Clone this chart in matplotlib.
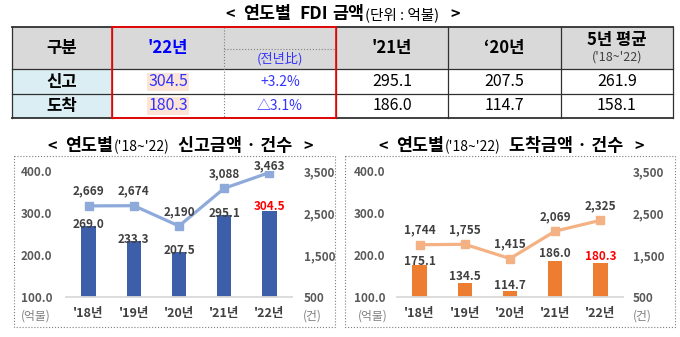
"""
연도별 FDI 금액 — summary table plus two bar/line combo charts.
"""

import numpy as np
import matplotlib
matplotlib.use("Agg")
import matplotlib.pyplot as plt
from matplotlib.patches import Rectangle

FONT = ["Noto Sans CJK KR", "DejaVu Sans"]
plt.rcParams["font.family"] = FONT

# ── Data ─────────────────────────────────────────────────────────────────────
table_header = ["구분", "'22년", "(전년比)", "'21년", "‘20년", "5년 평균"]
avg_period = "('18~'22)"
row_names = ["신고", "도착"]
val_22 = [304.5, 180.3]
yoy = ["+3.2%", "△3.1%"]
val_21 = [295.1, 186.0]
val_20 = [207.5, 114.7]
avg_5y = [261.9, 158.1]

years = ["'18년", "'19년", "'20년", "'21년", "'22년"]
report_amt = [269.0, 233.3, 207.5, 295.1, 304.5]
report_cnt = [2669, 2674, 2190, 3088, 3463]
arrive_amt = [175.1, 134.5, 114.7, 186.0, 180.3]
arrive_cnt = [1744, 1755, 1415, 2069, 2325]

amt_ticks = [100, 200, 300, 400]
cnt_ticks = [500, 1500, 2500, 3500]

# ── Style ────────────────────────────────────────────────────────────────────
BLUE_BAR = "#3d5fa9"
BLUE_LINE = "#8eaadb"
ORANGE_BAR = "#ed7d31"
ORANGE_LINE = "#f4b183"
DARK = "#404040"
TICK = "#595959"
RED = "#ff0000"
TBL_BLUE = "#3333ff"

fig = plt.figure(figsize=(6.8, 3.37), dpi=100)
bg = fig.add_axes([0, 0, 1, 1])
bg.set_xlim(0, 680)
bg.set_ylim(337, 0)
bg.axis("off")


def title_line(xc, y, pieces):
    """Draw mixed-size text pieces on one baseline, centred on xc."""
    renderer = fig.canvas.get_renderer()
    placed, total = [], 0
    for s, size, weight, gap in pieces:
        t = bg.text(0, y, s, fontsize=size, fontweight=weight, color="black",
                    ha="left", va="baseline")
        w = t.get_window_extent(renderer).width
        placed.append((t, w, gap))
        total += w + gap
    x = xc - total / 2
    for t, w, gap in placed:
        x += gap
        t.set_x(x)
        x += w


# ── Main title ───────────────────────────────────────────────────────────────
title_line(343, 19, [
    ("<", 11.5, "bold", 0),
    ("연도별", 12.5, "bold", 8),
    ("FDI", 12.5, "bold", 8),
    ("금액", 12.5, "bold", 5),
    ("(단위 : 억불)", 10.5, "normal", 0),
    (">", 11.5, "bold", 12),
])

# ── Table ────────────────────────────────────────────────────────────────────
col_x = [12, 112, 224, 336, 448, 561, 673]
row_y = [27, 69, 94, 118]
col_c = [(a + b) / 2 for a, b in zip(col_x[:-1], col_x[1:])]
row_c = [82, 106]

bg.add_patch(Rectangle((col_x[0], row_y[0]), col_x[-1] - col_x[0],
                       row_y[1] - row_y[0], fc="#d9d9d9", ec="none"))
bg.add_patch(Rectangle((col_x[0], row_y[1]), col_x[1] - col_x[0],
                       row_y[-1] - row_y[1], fc="#daeef3", ec="none"))
for i, yy in enumerate(row_y):
    lw = 1.3 if i in (0, len(row_y) - 1) else 0.9
    bg.plot([col_x[0], col_x[-1]], [yy, yy], color="#303030", lw=lw)
for xx in [col_x[0], col_x[1], col_x[3], col_x[4], col_x[5], col_x[6]]:
    bg.plot([xx, xx], [row_y[0], row_y[-1]], color="#303030", lw=0.9)
bg.plot([col_x[2], col_x[2]], [row_y[0], row_y[-1]], color="#808080",
        lw=0.8, ls=":")
bg.plot([col_x[2], col_x[3]], [49, 49], color="#808080", lw=0.8, ls=":")
bg.add_patch(Rectangle((col_x[1], row_y[0]), col_x[3] - col_x[1],
                       row_y[-1] - row_y[0], fill=False, ec=RED, lw=1.2,
                       zorder=5))

hdr_kw = dict(ha="center", va="center", fontsize=12, fontweight="bold")
bg.text(col_c[0], 48, table_header[0], **hdr_kw)
bg.text(col_c[1], 48, table_header[1], color="#0000ff", **hdr_kw)
bg.text(col_c[2], 59, table_header[2], ha="center", va="center",
        fontsize=9.5, color=TBL_BLUE)
bg.text(col_c[3], 48, table_header[3], **hdr_kw)
bg.text(col_c[4], 48, table_header[4], **hdr_kw)
bg.text(col_c[5], 40, table_header[5], **hdr_kw)
bg.text(col_c[5], 57, avg_period, ha="center", va="center", fontsize=9,
        color=DARK)

for i, yy in enumerate(row_c):
    bg.text(col_c[0], yy, row_names[i], **hdr_kw)
    bg.text(col_c[1], yy, f"{val_22[i]:.1f}", ha="center", va="center",
            fontsize=11.5, color=TBL_BLUE,
            bbox=dict(fc="#fce4d6", ec="none", pad=0.6))
    bg.text(col_c[2], yy, yoy[i], ha="center", va="center", fontsize=10,
            color=TBL_BLUE)
    for j, vals in zip((3, 4, 5), (val_21, val_20, avg_5y)):
        bg.text(col_c[j], yy, f"{vals[i]:.1f}", ha="center", va="center",
                fontsize=11.5, color="black")


# ── Charts ───────────────────────────────────────────────────────────────────
def combo_chart(left, right, amt, cnt, bar_c, line_c, bar_off, line_off,
                lpad, rpad, name, title_x, unit_l, unit_r):
    top, bottom = 171, 297
    ax = fig.add_axes([left / 680, (337 - bottom) / 337,
                       (right - left) / 680, (bottom - top) / 337])
    ax.set_facecolor("none")
    x = np.arange(len(years))
    ax.bar(x, amt, width=0.32, color=bar_c, zorder=2)
    ax.set_xlim(-0.5, len(years) - 0.5)
    ax.set_ylim(amt_ticks[0], amt_ticks[-1])
    ax.set_yticks(amt_ticks)
    ax.set_yticklabels([f"{v:.1f}" for v in amt_ticks])
    ax.set_xticks(x)
    ax.set_xticklabels(years)
    ax.tick_params(axis="y", length=0, labelsize=8.5, labelcolor=TICK, pad=lpad)
    ax.tick_params(axis="x", length=0, labelsize=9, labelcolor=DARK, pad=7.5)
    for lab in ax.get_yticklabels() + ax.get_xticklabels():
        lab.set_fontweight("bold")
    for s in ("top", "left", "right"):
        ax.spines[s].set_visible(False)
    ax.spines["bottom"].set_color("#d9d9d9")
    ax.spines["bottom"].set_linewidth(1.3)

    for i, v in enumerate(amt):
        last = i == len(amt) - 1
        ax.annotate(f"{v:.1f}", (i, v), xytext=(0, bar_off[i]),
                    textcoords="offset points", ha="center", va="center",
                    fontsize=8.5, fontweight="bold",
                    color=RED if last else DARK, zorder=4)

    ax2 = ax.twinx()
    ax2.set_ylim(cnt_ticks[0], cnt_ticks[-1])
    ax2.set_yticks(cnt_ticks)
    ax2.set_yticklabels([f"{v:,}" for v in cnt_ticks])
    ax2.tick_params(axis="y", length=0, labelsize=8.5, labelcolor=TICK, pad=rpad)
    for lab in ax2.get_yticklabels():
        lab.set_fontweight("bold")
    for s in ax2.spines.values():
        s.set_visible(False)
    ax2.plot(x, cnt, color=line_c, lw=2.3, marker="s", ms=5.5,
             solid_capstyle="round")
    for i, v in enumerate(cnt):
        ax2.annotate(f"{v:,}", (i, v), xytext=(0, line_off[i]),
                     textcoords="offset points", ha="center", va="center",
                     fontsize=8.5, fontweight="bold", color=DARK,
                     annotation_clip=False)

    # units under the axes
    bg.text(unit_l, 316, "(억불)", ha="right", va="center", fontsize=8.5,
            color="#7f7f7f")
    bg.text(unit_r, 316, "(건)", ha="left", va="center", fontsize=8.5,
            color="#7f7f7f")

    title_line(title_x, 151, [
        ("<", 11.5, "bold", 0),
        ("연도별", 12.5, "bold", 9),
        ("('18~'22)", 10, "normal", 0),
        (name, 12.5, "bold", 9),
        (">", 11.5, "bold", 11),
    ])


combo_chart(66, 292, report_amt, report_cnt, BLUE_BAR, BLUE_LINE,
            bar_off=[1, 1, 1, 1, 3.5], line_off=[10.5, 10.5, 10.5, 10.5, 4.5],
            lpad=10, rpad=8.5, name="신고금액 · 건수", title_x=180,
            unit_l=51, unit_r=303)
combo_chart(397, 623, arrive_amt, arrive_cnt, ORANGE_BAR, ORANGE_LINE,
            bar_off=[3, 4, 4, 5, 5], line_off=[10.5, 10.5, 10.5, 10.5, 10.5],
            lpad=8.5, rpad=7, name="도착금액 · 건수", title_x=511,
            unit_l=388, unit_r=633)

# dotted panel frames
for x0, x1 in ((14, 335), (345, 675)):
    bg.add_patch(Rectangle((x0, 156), x1 - x0, 171, fill=False, ec="#7f7f7f",
                           lw=0.8, ls=":", zorder=0))

fig.savefig("out.png", dpi=100)
